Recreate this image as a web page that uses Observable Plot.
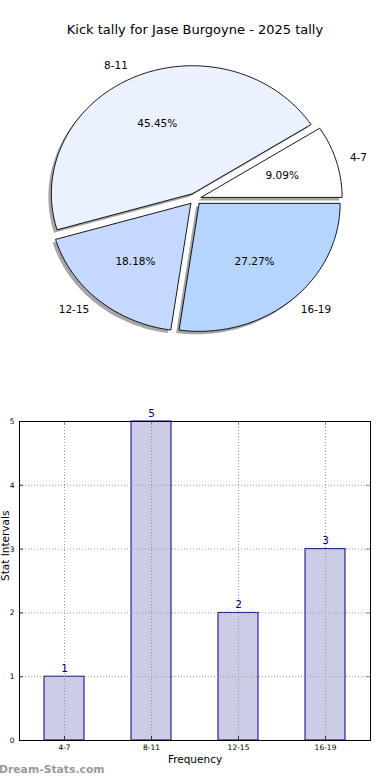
<!DOCTYPE html>
<html><head><meta charset="utf-8">
<script src="https://cdn.jsdelivr.net/npm/d3@7"></script>
<script src="https://cdn.jsdelivr.net/npm/@observablehq/plot@0.6"></script>
<style>
html,body{margin:0;padding:0;background:#fff}
body{font-family:"DejaVu Sans",sans-serif;width:390px;height:780px;position:relative;overflow:hidden}
#title{position:absolute;top:22px;left:0;width:390px;text-align:center;font-size:13px;line-height:15px;color:#000}
#pie{position:absolute;top:0;left:0}
#bar{position:absolute;top:400px;left:0}
#wm{position:absolute;left:-1px;top:763px;font-size:10.8px;line-height:14px;font-weight:bold;color:#9a9a9a}
</style></head><body>
<div id="pie"></div>
<div id="title">Kick tally for Jase Burgoyne - 2025 tally</div>
<div id="bar"></div>
<div id="wm">Dream-Stats.com</div>
<script>
// ---- data ----
const categories = ["4-7", "8-11", "12-15", "16-19"];
const counts = [1, 5, 2, 3];
const valueTicks = [0, 1, 2, 3, 4, 5];

// ---- pie geometry (matplotlib style: start at 3 o'clock, counter-clockwise, exploded) ----
const total = d3.sum(counts);
const explode = 0.045;
let cum = 0;
const slices = categories.map((c, i) => {
  const a0 = 2 * Math.PI * cum / total;
  cum += counts[i];
  const a1 = 2 * Math.PI * cum / total;
  const mid = (a0 + a1) / 2;
  return {c, a0, a1, mid, ex: explode * Math.cos(mid), ey: explode * Math.sin(mid),
          pct: (100 * counts[i] / total).toFixed(2) + "%"};
});
const pts = [];
for (const s of slices) {
  pts.push({c: s.c, x: s.ex, y: s.ey});
  const n = Math.max(8, Math.ceil((s.a1 - s.a0) / (Math.PI / 120)));
  for (let k = 0; k <= n; k++) {
    const a = s.a0 + (s.a1 - s.a0) * k / n;
    pts.push({c: s.c, x: s.ex + Math.cos(a), y: s.ey + Math.sin(a)});
  }
  pts.push({c: s.c, x: s.ex, y: s.ey});
}
const lx = (s, r) => s.ex + r * Math.cos(s.mid);
const ly = (s, r) => s.ey + r * Math.sin(s.mid);

const pie = Plot.plot({
  width: 390, height: 360,
  x: {domain: [-1, 1], range: [53.5, 335.5], axis: null},
  y: {domain: [-1, 1], range: [326.5, 70.5], axis: null},
  color: {domain: categories, range: ["#ffffff", "#ebf2ff", "#c5d8ff", "#b5d5ff"]},
  style: {fontFamily: "DejaVu Sans", fontSize: "10.5px", overflow: "visible", background: "transparent"},
  marks: [
    Plot.line(pts, {x: "x", y: "y", z: "c", fill: "#4d4d4d", fillOpacity: 0.5, stroke: null, dx: -3, dy: 3, curve: "linear"}),
    Plot.line(pts, {x: "x", y: "y", z: "c", fill: "c", stroke: "black", strokeWidth: 0.9, curve: "linear", strokeLinejoin: "miter"}),
    Plot.text(slices.filter(s => Math.cos(s.mid) >= 0), {x: s => lx(s, 1.1), y: s => ly(s, 1.1), text: "c", textAnchor: "start", fill: "black"}),
    Plot.text(slices.filter(s => Math.cos(s.mid) < 0), {x: s => lx(s, 1.1), y: s => ly(s, 1.1), text: "c", textAnchor: "end", fill: "black"}),
    Plot.text(slices, {x: s => lx(s, 0.6), y: s => ly(s, 0.6), text: "pct", fill: "black"})
  ]
});
document.getElementById("pie").appendChild(pie);

// ---- bar chart ----
const barData = categories.map((c, i) => ({c, v: counts[i]}));
const grid = {stroke: "#9a9a9a", strokeOpacity: 1, strokeDasharray: "1,2", strokeWidth: 1};
const bar = Plot.plot({
  width: 390, height: 380,
  marginLeft: 19, marginRight: 20, marginTop: 21, marginBottom: 40,
  x: {domain: categories, paddingInner: 0.545, paddingOuter: 0.2725, label: null, axis: null},
  y: {domain: [0, 5], label: null, axis: null},
  style: {fontFamily: "DejaVu Sans", overflow: "visible", background: "transparent"},
  marks: [
    Plot.barY(barData, {x: "c", y: "v", fill: "#ccccE6", stroke: "#000080", strokeWidth: 1}),
    Plot.gridY(valueTicks.slice(1, -1), grid),
    Plot.gridX(categories, grid),
    Plot.tickY(valueTicks, {y: d => d, insetRight: 347, stroke: "#333"}),
    Plot.tickY(valueTicks, {y: d => d, insetLeft: 347, stroke: "#888"}),
    Plot.tickX(categories, {x: d => d, insetTop: 315, stroke: "#333"}),
    Plot.tickX(categories, {x: d => d, insetBottom: 315, stroke: "#888"}),
    Plot.frame({stroke: "black", strokeWidth: 1}),
    Plot.axisY(valueTicks, {tickSize: 0, tickPadding: 5, fontSize: 7.5, label: null, tickFormat: d => String(d)}),
    Plot.axisX(categories, {tickSize: 0, tickPadding: 4, fontSize: 7.5, label: null}),
    Plot.text(barData, {x: "c", y: "v", text: d => String(d.v), lineAnchor: "bottom", dy: -5, fill: "#000080", fontSize: 10.5}),
    Plot.text(["Frequency"], {frameAnchor: "bottom", text: d => d, dy: 22, fontSize: 10.5, fill: "black"}),
    Plot.text(["Stat Intervals"], {frameAnchor: "left", text: d => d, dx: -13.8, rotate: -90, fontSize: 10.5, fill: "black"})
  ]
});
document.getElementById("bar").appendChild(bar);
</script>
</body></html>
